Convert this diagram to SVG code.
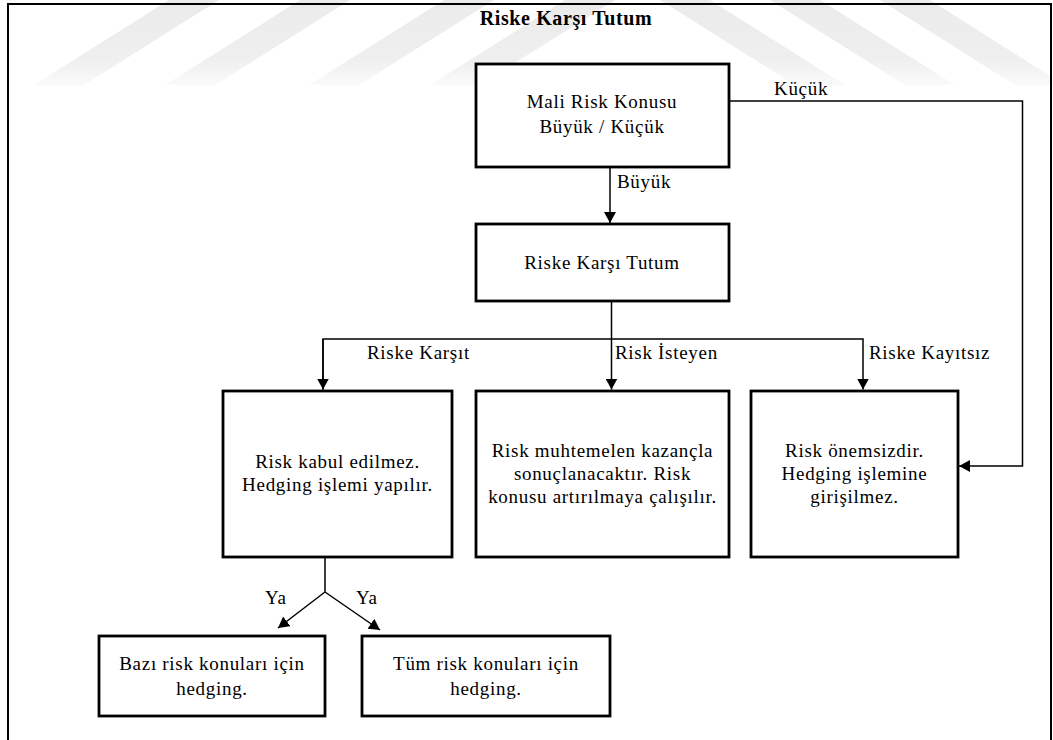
<svg xmlns="http://www.w3.org/2000/svg" width="1053" height="740" viewBox="0 0 1053 740">
<style>
.box{fill:#fff;stroke:#000;stroke-width:2.8}
.t{font-family:"Liberation Serif","Times New Roman",serif;font-size:19px;letter-spacing:0.7px;fill:#000}
.c{text-anchor:middle}
.ttl{font-family:"Liberation Serif","Times New Roman",serif;font-size:20px;font-weight:bold;letter-spacing:0.6px;text-anchor:middle}
.ln{fill:none;stroke:#000;stroke-width:1.5}
.wm{fill:url(#wmg)}
</style>
<defs>
<marker id="ah" markerUnits="userSpaceOnUse" markerWidth="12" markerHeight="12" refX="11" refY="6" orient="auto">
<path d="M0,0 L11,6 L0,12 z" fill="#000"/>
</marker>
<linearGradient id="wmg" x1="0" y1="0" x2="0" y2="85" gradientUnits="userSpaceOnUse">
<stop offset="0" stop-color="#ebebeb"/>
<stop offset="0.7" stop-color="#efefef"/>
<stop offset="1" stop-color="#fafafa"/>
</linearGradient>
</defs>
<rect width="1053" height="740" fill="#fff"/>
<g id="watermark">
<polygon class="wm" points="169,0 219,0 84,85 34,85"/>
<polygon class="wm" points="300,0 350,0 215,85 165,85"/>
<polygon class="wm" points="444,0 494,0 359,85 309,85"/>
<polygon class="wm" points="565,0 615,0 480,85 430,85"/>
<polygon class="wm" points="660,0 710,0 845,85 795,85"/>
<polygon class="wm" points="770,0 820,0 955,85 905,85"/>
<polygon class="wm" points="880,0 930,0 1053,78 1053,85 1015,85"/>
</g>
<g id="frame" fill="none" stroke="#000" stroke-width="2">
<path d="M8,740 V4 H1051 V740"/>
</g>
<text class="ttl" x="566" y="25">Riske Karşı Tutum</text>
<g id="connectors">
<line class="ln" x1="610" y1="167" x2="610" y2="223" marker-end="url(#ah)"/>
<polyline class="ln" points="729,101 1022.5,101 1022.5,466 959,466" marker-end="url(#ah)"/>
<line class="ln" x1="611.5" y1="301" x2="611.5" y2="389.5" marker-end="url(#ah)"/>
<polyline class="ln" points="323,389.5 323,339 863,339 863,389.5" marker-end="url(#ah)"/>
<line class="ln" x1="323" y1="339" x2="323" y2="389.5" marker-end="url(#ah)"/>
<polyline class="ln" points="325,557 325,592 278,628" marker-end="url(#ah)"/>
<line class="ln" x1="325" y1="592" x2="380" y2="630" marker-end="url(#ah)"/>
<text class="t" x="617" y="188">Büyük</text>
<text class="t" x="774" y="95">Küçük</text>
<text class="t" x="367" y="359">Riske Karşıt</text>
<text class="t" x="615" y="359">Risk İsteyen</text>
<text class="t" x="869" y="359">Riske Kayıtsız</text>
<text class="t" x="265" y="604">Ya</text>
<text class="t" x="356" y="604">Ya</text>
</g>
<g id="n1">
<rect class="box" x="476" y="64" width="253" height="103"/>
<text class="t c" x="602" y="108">Mali Risk Konusu</text>
<text class="t c" x="602" y="133">Büyük / Küçük</text>
</g>
<g id="n2">
<rect class="box" x="476" y="224" width="253" height="77"/>
<text class="t c" x="602" y="269">Riske Karşı Tutum</text>
</g>
<g id="n3">
<rect class="box" x="223" y="391" width="229" height="166"/>
<text class="t c" x="337.5" y="468">Risk kabul edilmez.</text>
<text class="t c" x="337.5" y="491">Hedging işlemi yapılır.</text>
</g>
<g id="n4">
<rect class="box" x="476" y="391" width="253" height="166"/>
<text class="t c" x="602.5" y="457">Risk muhtemelen kazançla</text>
<text class="t c" x="602.5" y="480">sonuçlanacaktır. Risk</text>
<text class="t c" x="602.5" y="503">konusu artırılmaya çalışılır.</text>
</g>
<g id="n5">
<rect class="box" x="751" y="391" width="207" height="166"/>
<text class="t c" x="854.5" y="457">Risk önemsizdir.</text>
<text class="t c" x="854.5" y="480">Hedging işlemine</text>
<text class="t c" x="854.5" y="503">girişilmez.</text>
</g>
<g id="n6">
<rect class="box" x="99" y="636" width="226" height="80"/>
<text class="t c" x="212" y="670">Bazı risk konuları için</text>
<text class="t c" x="212" y="695">hedging.</text>
</g>
<g id="n7">
<rect class="box" x="362" y="636" width="248" height="80"/>
<text class="t c" x="486" y="670">Tüm risk konuları için</text>
<text class="t c" x="486" y="695">hedging.</text>
</g>
</svg>
